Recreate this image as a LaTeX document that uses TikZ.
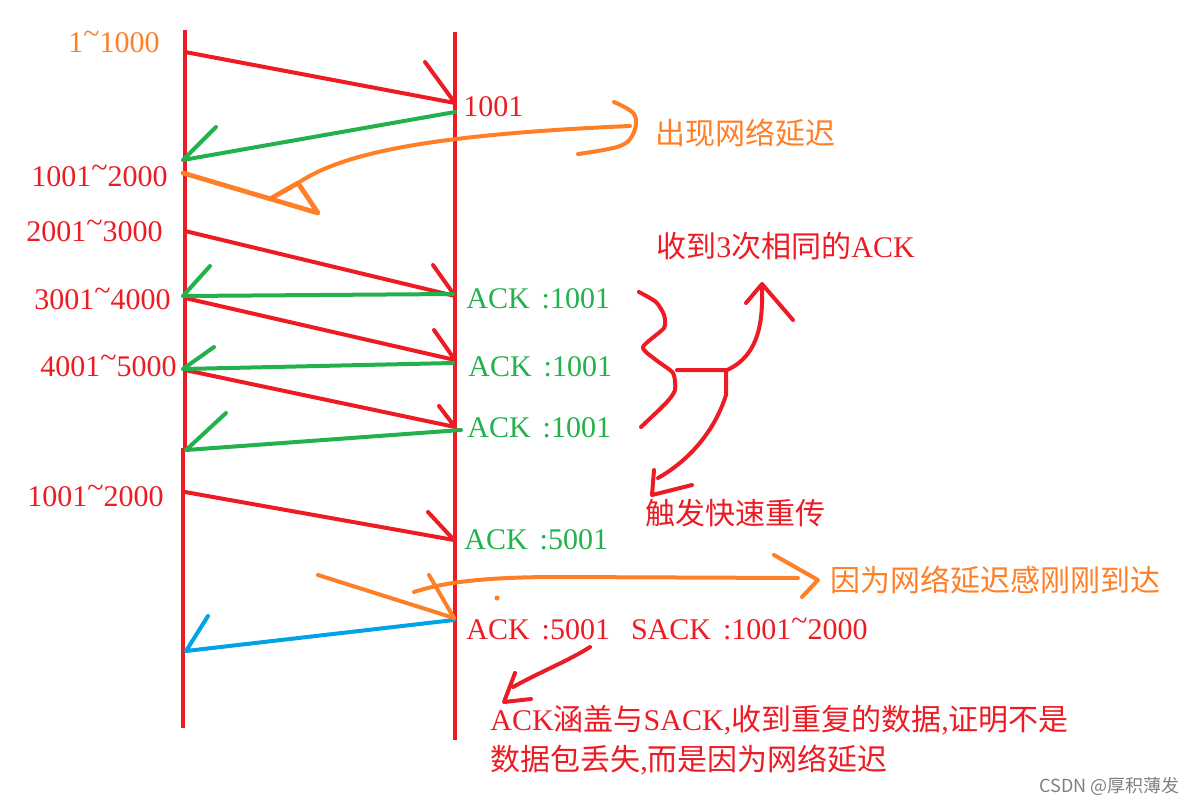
\documentclass[tikz,border=0pt]{standalone}
\usepackage{fontspec}
\setmainfont{Liberation Serif}
\newfontfamily\cjk{Noto Sans CJK SC}
\usepackage{xcolor}
\definecolor{paintRed}{RGB}{237,28,36}
\definecolor{paintGreen}{RGB}{34,177,76}
\definecolor{paintOrange}{RGB}{255,127,39}
\definecolor{paintBlue}{RGB}{0,162,232}
\newcommand{\tld}{\raisebox{.32em}{\textasciitilde}}
\usepackage{tikz}

\begin{document}
\begin{tikzpicture}[x=0.5pt, y=-0.5pt,
  pen/.style={line width=2pt, line cap=round, line join=round},
  lbl/.style={inner sep=0pt, anchor=west, font=\fontsize{15}{18}\selectfont},
  zh/.style={lbl, font=\fontsize{15}{18}\selectfont\cjk}]
\useasboundingbox (0,0) rectangle (1188,804);

% lifelines
\coordinate (sTop) at (185,30);
\coordinate (sGap) at (185,450);
\coordinate (sGap2) at (183,448);
\coordinate (sBot) at (183,728);
\coordinate (rTop) at (455,32);
\coordinate (rBot) at (455,740);
\draw[pen, paintRed, line width=2.2pt, line cap=butt] (sTop) -- (sGap) (sGap2) -- (sBot);
\draw[pen, paintRed, line width=2.2pt, line cap=butt] (rTop) -- (rBot);

% sequence numbers
\node[lbl, anchor=east, paintOrange] (seq1) at (160,42) {1\tld1000};
\node[lbl, anchor=east, paintRed] (seq2) at (168,176) {1001\tld2000};
\node[lbl, anchor=east, paintRed] (seq3) at (163,231) {2001\tld3000};
\node[lbl, anchor=east, paintRed] (seq4) at (171,299) {3001\tld4000};
\node[lbl, anchor=east, paintRed] (seq5) at (177,366) {4001\tld5000};
\node[lbl, anchor=east, paintRed] (seq6) at (164,496) {1001\tld2000};

% replies
\node[lbl, paintRed] (ack0) at (463,107) {1001};
\node[lbl, paintGreen] (ack1) at (466,299) {ACK\hspace{.15em} :1001};
\node[lbl, paintGreen] (ack2) at (468,367) {ACK\hspace{.15em} :1001};
\node[lbl, paintGreen] (ack3) at (467,428) {ACK\hspace{.15em} :1001};
\node[lbl, paintGreen] (ack4) at (464,540) {ACK\hspace{.15em} :5001};
\node[lbl, paintRed] (sack) at (466,629) {ACK\hspace{.15em} :5001\hspace{.45em} SACK\hspace{.15em} :1001\tld2000};

% notes
\node[zh, paintOrange] (delay) at (655,133) {出现网络延迟};
\node[lbl, paintRed] (dup) at (656,246) {{\cjk 收到}3{\cjk 次相同的}ACK};
\node[zh, paintRed] (fast) at (645,513) {触发快速重传};
\node[zh, paintOrange] (late) at (830,580) {因为网络延迟感刚刚到达};
\node[lbl, paintRed] (note1) at (490,720) {ACK{\cjk 涵盖与}SACK,{\cjk 收到重复的数据},{\cjk 证明不是}};
\node[lbl, paintRed] (note2) at (490,760) {{\cjk 数据包丢失},{\cjk 而是因为网络延迟}};
\node[lbl, anchor=east, gray, font=\fontsize{9}{11}\selectfont\cjk] (mark) at (1180,786) {CSDN @厚积薄发};

% data segments
\coordinate (d1s) at (185,52);  \coordinate (d1r) at (455,103);
\coordinate (d2s) at (185,231); \coordinate (d2r) at (455,296);
\coordinate (d3s) at (185,298); \coordinate (d3r) at (455,360);
\coordinate (d4s) at (185,370); \coordinate (d4r) at (455,427);
\coordinate (d5s) at (185,492); \coordinate (d5r) at (454,540);
\draw[pen, paintRed] (d1s) -- (d1r) (425,62) -- (d1r);
\draw[pen, paintRed] (d2s) -- (d2r) (433,265) -- (d2r);
\draw[pen, paintRed] (d3s) -- (d3r) (434,330) -- (d3r);
\draw[pen, paintRed] (d4s) -- (d4r) (439,406) -- (d4r);
\draw[pen, paintRed] (d5s) -- (d5r) (428,512) -- (d5r);

% acks
\coordinate (a0r) at (455,112); \coordinate (a0s) at (183,160);
\coordinate (a1r) at (453,294); \coordinate (a1s) at (183,296);
\coordinate (a2r) at (453,363); \coordinate (a2s) at (183,369);
\coordinate (a3r) at (461,430); \coordinate (a3s) at (186,450);
\coordinate (a5r) at (454,620); \coordinate (a5s) at (186,651);
\draw[pen, paintGreen] (a0r) -- (a0s) (216,127) -- (a0s);
\draw[pen, paintGreen] (a1r) -- (a1s) (210,266) -- (a1s);
\draw[pen, paintGreen] (a2r) -- (a2s) (214,347) -- (a2s);
\draw[pen, paintGreen] (a3r) -- (a3s) (226,413) -- (a3s);
\draw[pen, paintBlue] (a5r) -- (a5s) (208,616) -- (a5s);

% delayed segment
\draw[pen, paintOrange, line width=2.4pt] (183,173) -- (318,213) -- (298,183) -- (270,199);
\draw[pen, paintOrange] (298,183) .. controls (340,155) and (420,135) .. (630,126);
\draw[pen, paintOrange] plot[smooth, tension=0.6] coordinates {(614,102) (634,114) (634,132) (620,146) (578,154)};
\draw[pen, paintOrange] (318,575) -- (454,618) (429,575) -- (454,618);
\draw[pen, paintOrange] (414,592) .. controls (450,580) and (500,577) .. (560,577) -- (798,578);
\draw[pen, paintOrange] (774,555) -- (818,580) -- (802,597);
\fill[paintOrange] (497,598) circle (2.5);

% brace and remarks
\draw[pen, paintRed] plot[smooth, tension=0.4] coordinates {(639,292) (656,302) (664,315) (664,328) (643,347) (656,360) (673,373) (675,390) (666,403) (641,427)};
\draw[pen, paintRed] (677,370) -- (727,370) .. controls (760,355) and (763,320) .. (762,285);
\draw[pen, paintRed] (746,303) -- (762,284) -- (793,320);
\draw[pen, paintRed] (726,370) -- (726,395) .. controls (715,430) and (690,460) .. (658,478);
\draw[pen, paintRed] (654,470) -- (652,495) -- (692,485);
\draw[pen, paintRed] (590,647) .. controls (570,660) and (540,672) .. (513,687);
\draw[pen, paintRed] (515,673) -- (504,702) -- (531,699);
\end{tikzpicture}
\end{document}
